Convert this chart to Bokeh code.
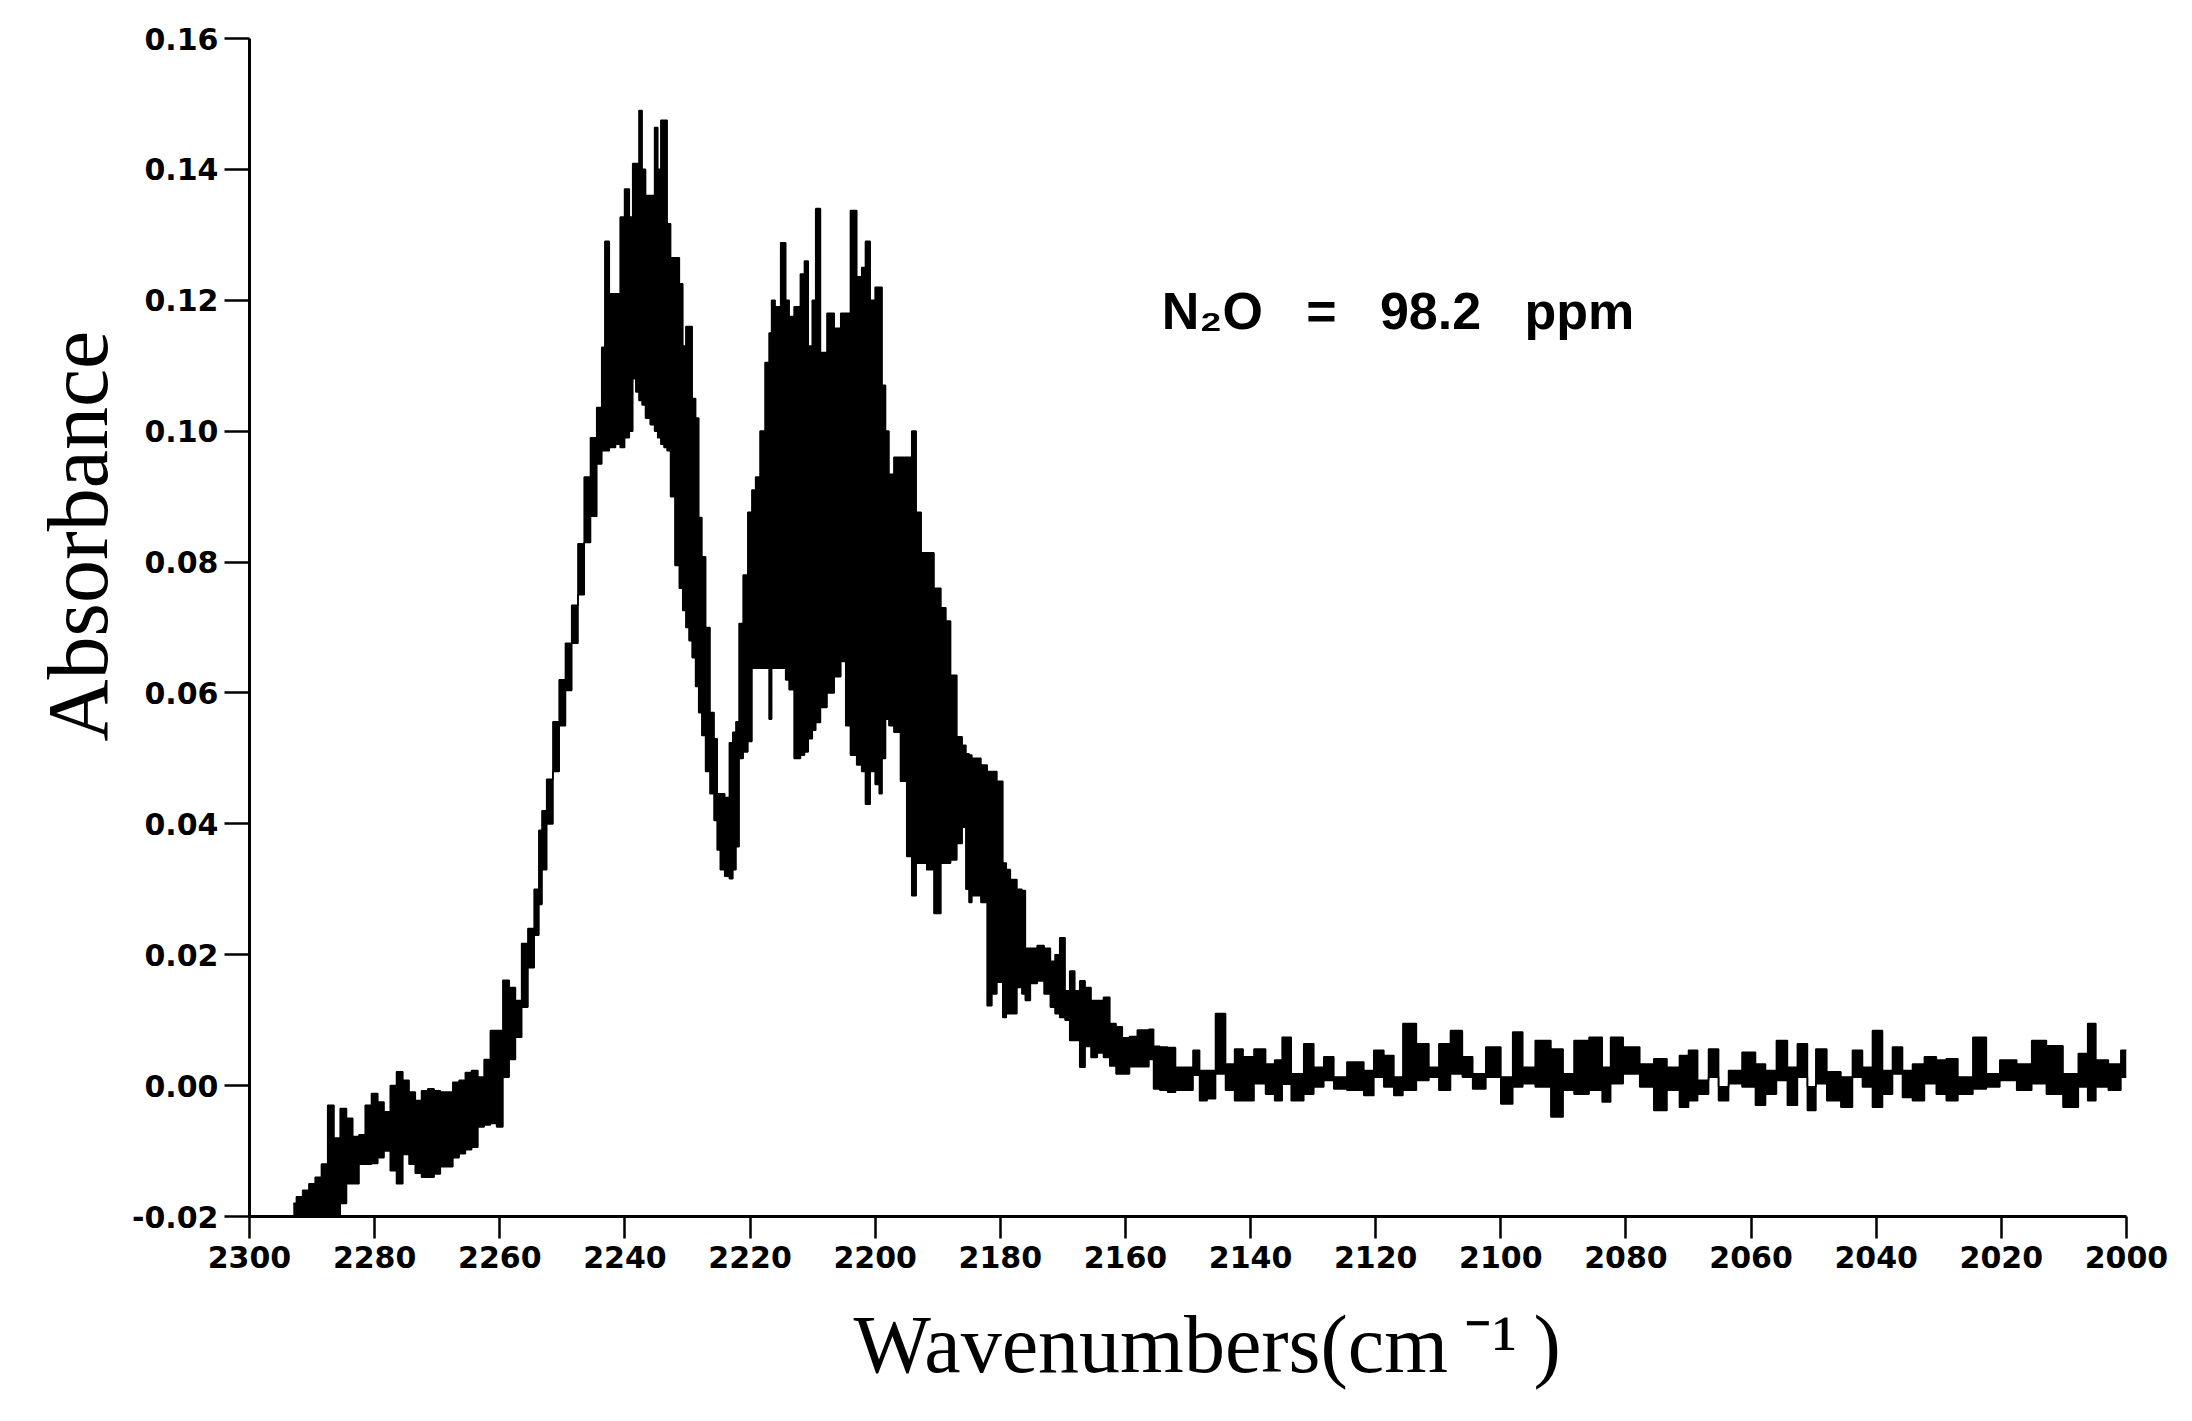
from bokeh.plotting import figure
from bokeh.models import Range1d, FixedTicker, PrintfTickFormatter, Label, Title
from bokeh.embed import file_html
from bokeh.resources import INLINE

# ---- data ----
wavenumber = [
    2293.0, 2292.0, 2291.0, 2290.0, 2289.0, 2288.0, 2287.0, 2286.0, 2285.0, 2284.0,
    2283.0, 2282.0, 2281.0, 2280.0, 2279.0, 2278.0, 2277.0, 2276.0, 2275.0, 2274.0,
    2273.0, 2272.0, 2271.0, 2270.0, 2269.0, 2268.0, 2267.0, 2266.0, 2265.0, 2264.0,
    2263.0, 2262.0, 2261.0, 2260.0, 2259.0, 2258.0, 2257.0, 2256.0, 2255.0, 2254.0,
    2253.5, 2253.0, 2252.0, 2251.0, 2250.0, 2249.0, 2248.0, 2247.0, 2246.0, 2245.0,
    2244.0, 2243.4, 2243.0, 2242.0, 2241.0, 2240.5, 2239.6, 2239.0, 2238.5, 2238.0,
    2237.5, 2237.0, 2236.4, 2235.5, 2235.0, 2234.5, 2234.0, 2233.5, 2233.0, 2232.4,
    2231.6, 2231.0, 2230.5, 2230.0, 2229.5, 2229.0, 2228.4, 2228.0, 2227.4, 2226.8,
    2226.0, 2225.5, 2225.0, 2224.5, 2223.6, 2223.0, 2222.5, 2222.0, 2221.5, 2220.7,
    2220.0, 2219.4, 2218.8, 2218.0, 2217.2, 2216.7, 2216.4, 2215.6, 2214.6, 2214.0,
    2213.5, 2212.4, 2211.5, 2211.1, 2210.3, 2209.8, 2209.2, 2208.3, 2207.1, 2206.0,
    2205.0, 2204.4, 2203.5, 2202.4, 2201.9, 2201.2, 2200.4, 2199.6, 2199.1, 2198.7,
    2198.0, 2197.6, 2196.4, 2195.5, 2194.4, 2193.9, 2193.0, 2192.3, 2191.2, 2190.0,
    2189.0, 2188.4, 2187.5, 2186.4, 2185.8, 2185.2, 2184.8, 2184.3, 2183.6, 2182.6,
    2181.6, 2181.1, 2180.0, 2179.2, 2178.9, 2177.9, 2176.8, 2176.3, 2175.7, 2174.7,
    2173.5, 2172.5, 2171.5, 2171.0, 2170.0, 2169.3, 2168.5, 2167.7, 2166.9, 2166.0,
    2165.0, 2164.0, 2163.0, 2162.0, 2161.0, 2160.0, 2158.7, 2157.5, 2156.5, 2156.0,
    2155.0, 2154.0, 2152.5, 2151.5, 2149.6, 2148.8, 2147.5, 2146.4, 2144.8, 2143.2,
    2141.9, 2140.5, 2138.4, 2136.8, 2135.5, 2134.4, 2132.6, 2130.4, 2129.4, 2127.2,
    2126.2, 2123.0, 2120.8, 2119.8, 2117.6, 2116.6, 2114.7, 2112.3, 2110.7, 2109.1,
    2107.0, 2105.3, 2103.7, 2101.1, 2098.9, 2097.3, 2095.7, 2093.3, 2090.7, 2089.4,
    2087.2, 2084.6, 2083.0, 2081.9, 2079.0, 2076.6, 2074.5, 2072.4, 2070.5, 2069.5,
    2067.6, 2066.0, 2064.4, 2062.8, 2060.1, 2058.5, 2056.9, 2055.0, 2053.4, 2051.8,
    2050.2, 2049.1, 2046.7, 2044.6, 2043.0, 2041.4, 2039.8, 2038.2, 2036.6, 2035.0,
    2033.4, 2031.2, 2029.6, 2028.0, 2025.9, 2023.2, 2021.6, 2018.9, 2016.2, 2014.1,
    2011.5, 2008.8, 2006.6, 2005.8, 2004.0, 2001.8, 2000.0,
]

absorbance_high = [
    -0.0180, -0.0170, -0.0160, -0.0150, -0.0140, -0.0120, -0.0030, -0.0080, -0.0035, -0.0050,
    -0.0078, -0.0075, -0.0030, -0.0012, -0.0025, -0.0040, 0.0000, 0.0021, 0.0008, -0.0010,
    -0.0023, -0.0008, -0.0005, -0.0008, -0.0010, -0.0010, 0.0005, 0.0008, 0.0020, 0.0023,
    0.0013, 0.0040, 0.0084, 0.0084, 0.0161, 0.0150, 0.0130, 0.0217, 0.0240, 0.0300,
    0.0390, 0.0420, 0.0468, 0.0556, 0.0620, 0.0676, 0.0734, 0.0828, 0.0930, 0.0990,
    0.1036, 0.1128, 0.1290, 0.1210, 0.1210, 0.1327, 0.1370, 0.1327, 0.1409, 0.1409,
    0.1490, 0.1400, 0.1360, 0.1360, 0.1464, 0.1400, 0.1475, 0.1475, 0.1317, 0.1265,
    0.1265, 0.1225, 0.1130, 0.1160, 0.1160, 0.1050, 0.1020, 0.0868, 0.0808, 0.0700,
    0.0570, 0.0530, 0.0446, 0.0446, 0.0440, 0.0524, 0.0540, 0.0556, 0.0706, 0.0780,
    0.0876, 0.0910, 0.0930, 0.1000, 0.1105, 0.1150, 0.1200, 0.1190, 0.1288, 0.1200,
    0.1175, 0.1190, 0.1240, 0.1260, 0.1130, 0.1200, 0.1340, 0.1120, 0.1180, 0.1157,
    0.1180, 0.1180, 0.1337, 0.1236, 0.1250, 0.1290, 0.1200, 0.1220, 0.1220, 0.1070,
    0.1000, 0.0934, 0.0960, 0.0960, 0.0960, 0.1000, 0.0876, 0.0814, 0.0814, 0.0760,
    0.0730, 0.0710, 0.0627, 0.0533, 0.0520, 0.0507, 0.0505, 0.0500, 0.0500, 0.0490,
    0.0480, 0.0480, 0.0465, 0.0340, 0.0330, 0.0315, 0.0300, 0.0298, 0.0210, 0.0210,
    0.0214, 0.0210, 0.0190, 0.0200, 0.0226, 0.0145, 0.0175, 0.0145, 0.0160, 0.0150,
    0.0130, 0.0130, 0.0135, 0.0095, 0.0090, 0.0073, 0.0075, 0.0085, 0.0085, 0.0086,
    0.0060, 0.0059, 0.0058, 0.0028, 0.0028, 0.0054, 0.0023, 0.0023, 0.0110, 0.0033,
    0.0056, 0.0044, 0.0056, 0.0033, 0.0039, 0.0074, 0.0018, 0.0064, 0.0028, 0.0044,
    0.0013, 0.0036, 0.0023, 0.0054, 0.0046, 0.0013, 0.0095, 0.0064, 0.0028, 0.0064,
    0.0084, 0.0044, 0.0018, 0.0059, 0.0013, 0.0082, 0.0028, 0.0069, 0.0056, 0.0018,
    0.0069, 0.0074, 0.0028, 0.0074, 0.0059, 0.0033, 0.0041, 0.0028, 0.0046, 0.0054,
    0.0008, 0.0056, -0.0002, 0.0023, 0.0051, 0.0033, 0.0023, 0.0069, 0.0028, 0.0064,
    -0.0002, 0.0056, 0.0021, 0.0013, 0.0054, 0.0028, 0.0084, 0.0023, 0.0059, 0.0023,
    0.0033, 0.0044, 0.0039, 0.0041, 0.0013, 0.0074, 0.0018, 0.0039, 0.0033, 0.0069,
    0.0061, 0.0018, 0.0049, 0.0095, 0.0039, 0.0033, 0.0054,
]

absorbance_low = [
    -0.0200, -0.0200, -0.0200, -0.0200, -0.0200, -0.0200, -0.0200, -0.0200, -0.0180, -0.0150,
    -0.0150, -0.0120, -0.0120, -0.0119, -0.0110, -0.0100, -0.0130, -0.0150, -0.0105, -0.0120,
    -0.0134, -0.0140, -0.0140, -0.0135, -0.0124, -0.0124, -0.0110, -0.0104, -0.0098, -0.0094,
    -0.0063, -0.0060, -0.0058, -0.0063, 0.0013, 0.0040, 0.0074, 0.0120, 0.0180, 0.0230,
    0.0277, 0.0330, 0.0400, 0.0480, 0.0550, 0.0604, 0.0676, 0.0750, 0.0830, 0.0870,
    0.0950, 0.0970, 0.0970, 0.0975, 0.0980, 0.0975, 0.0990, 0.1000, 0.1080, 0.1060,
    0.1047, 0.1040, 0.1020, 0.1010, 0.1000, 0.0990, 0.0980, 0.0975, 0.0970, 0.0900,
    0.0795, 0.0760, 0.0726, 0.0700, 0.0680, 0.0654, 0.0610, 0.0570, 0.0535, 0.0480,
    0.0446, 0.0405, 0.0360, 0.0330, 0.0320, 0.0316, 0.0330, 0.0365, 0.0500, 0.0510,
    0.0526, 0.0638, 0.0638, 0.0638, 0.0638, 0.0560, 0.0638, 0.0638, 0.0638, 0.0620,
    0.0605, 0.0500, 0.0505, 0.0510, 0.0530, 0.0543, 0.0555, 0.0578, 0.0600, 0.0625,
    0.0648, 0.0550, 0.0505, 0.0490, 0.0480, 0.0430, 0.0480, 0.0460, 0.0446, 0.0500,
    0.0560, 0.0550, 0.0540, 0.0465, 0.0350, 0.0290, 0.0340, 0.0340, 0.0330, 0.0263,
    0.0340, 0.0340, 0.0345, 0.0370, 0.0395, 0.0300, 0.0280, 0.0290, 0.0290, 0.0280,
    0.0122, 0.0140, 0.0158, 0.0104, 0.0110, 0.0110, 0.0150, 0.0140, 0.0130, 0.0156,
    0.0160, 0.0140, 0.0120, 0.0110, 0.0104, 0.0100, 0.0069, 0.0069, 0.0028, 0.0060,
    0.0043, 0.0050, 0.0043, 0.0030, 0.0018, 0.0018, 0.0029, 0.0029, 0.0029, 0.0040,
    -0.0005, -0.0007, -0.0010, -0.0007, -0.0007, 0.0016, -0.0023, -0.0020, 0.0018, -0.0007,
    -0.0023, -0.0023, 0.0003, -0.0013, -0.0023, 0.0002, -0.0023, -0.0013, -0.0002, 0.0008,
    -0.0005, -0.0007, -0.0015, 0.0013, -0.0002, -0.0015, -0.0007, 0.0008, 0.0013, -0.0007,
    0.0018, 0.0013, -0.0005, 0.0013, -0.0028, -0.0002, 0.0003, -0.0002, -0.0048, -0.0007,
    -0.0013, -0.0007, -0.0025, 0.0003, 0.0018, -0.0002, -0.0038, -0.0007, -0.0033, -0.0023,
    -0.0013, 0.0013, -0.0023, 0.0003, -0.0002, -0.0030, -0.0013, 0.0008, -0.0030, 0.0013,
    -0.0038, 0.0003, -0.0023, -0.0033, 0.0013, -0.0002, -0.0033, -0.0013, 0.0018, -0.0018,
    -0.0023, 0.0003, -0.0013, -0.0023, -0.0013, -0.0005, -0.0002, 0.0008, -0.0007, 0.0003,
    -0.0013, -0.0033, -0.0002, -0.0023, -0.0002, -0.0007, 0.0013,
]

x_ticks = [2300, 2280, 2260, 2240, 2220, 2200, 2180, 2160, 2140, 2120,
           2100, 2080, 2060, 2040, 2020, 2000]
y_ticks = [-0.02, 0.0, 0.02, 0.04, 0.06, 0.08, 0.10, 0.12, 0.14, 0.16]

gap = "\u00a0\u00a0\u00a0"
annotation_text = "N\u2082O" + gap + "=" + gap + "98.2" + gap + "ppm"
y_title = "Absorbance"
x_title = "Wavenumbers(cm\u2009\u207b\u00b9\u2009)"

# ---- figure ----
W, H = 2192, 1421
p = figure(width=W, height=H,
           x_range=Range1d(2300, 2000), y_range=Range1d(-0.02, 0.16),
           output_backend="svg", toolbar_location=None,
           min_border_left=249, min_border_right=66,
           min_border_top=38, min_border_bottom=205)
p.outline_line_color = None
p.grid.visible = False
p.background_fill_color = "white"
p.border_fill_color = "white"

ink = "#000000"

# spectrum: filled band between the read envelopes plus its jagged edges
p.varea_step(x=wavenumber, y1=absorbance_low, y2=absorbance_high,
             step_mode="center", fill_color=ink)
p.step(wavenumber, absorbance_high, mode="center", line_color=ink, line_width=1.6)
p.step(wavenumber, absorbance_low, mode="center", line_color=ink, line_width=1.6)

# axes
tick_font = "DejaVu Sans"
for ax in (p.xaxis[0], p.yaxis[0]):
    ax.axis_line_color = ink
    ax.axis_line_width = 3
    ax.major_tick_line_color = ink
    ax.major_tick_line_width = 2.5
    ax.minor_tick_line_color = None
    ax.major_tick_in = 0
    ax.major_label_text_font = tick_font
    ax.major_label_text_font_style = "bold"
    ax.major_label_text_font_size = "30px"
    ax.major_label_text_color = ink

p.xaxis.ticker = FixedTicker(ticks=x_ticks)
p.xaxis.major_tick_out = 22
p.xaxis.major_label_standoff = 7

p.yaxis.ticker = FixedTicker(ticks=y_ticks)
p.yaxis.formatter = PrintfTickFormatter(format="%.2f")
p.yaxis.major_tick_out = 25
p.yaxis.major_label_standoff = 6

# annotation
p.add_layout(Label(x=2154.2, y=0.1184, text=annotation_text,
                   text_font="Liberation Sans", text_font_style="bold",
                   text_font_size="52px", text_color=ink,
                   text_align="left", text_baseline="middle"))

# axis titles (as side titles so they can be shifted along their side)
p.add_layout(Title(text=y_title, align="left", offset=475,
                   text_font="Liberation Serif", text_font_style="normal",
                   text_font_size="86px", text_color=ink, standoff=8), "left")
p.add_layout(Title(text=x_title, align="left", offset=604,
                   text_font="Liberation Serif", text_font_style="normal",
                   text_font_size="82px", text_color=ink, standoff=52), "below")

open("out.html", "w").write(file_html(p, INLINE))
